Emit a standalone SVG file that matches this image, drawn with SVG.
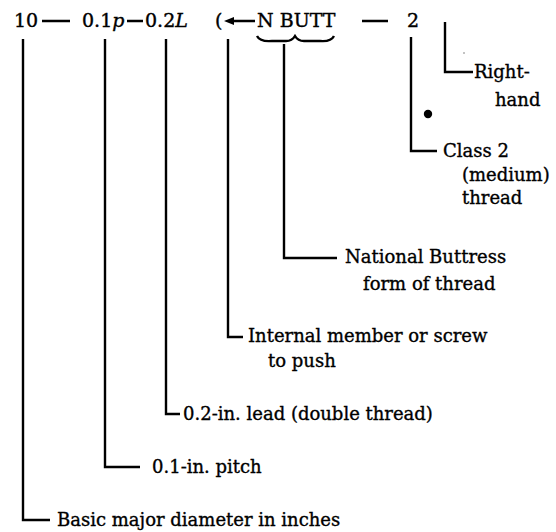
<svg xmlns="http://www.w3.org/2000/svg" width="556" height="532" viewBox="0 0 556 532">
<style>
.t{font-family:"DejaVu Serif","Liberation Serif",serif;font-size:18px;fill:#000;stroke:#000;stroke-width:0.35}
.h{font-family:"DejaVu Serif","Liberation Serif",serif;font-size:19px;fill:#000;stroke:#000;stroke-width:0.4}
.ln{fill:none;stroke:#000;stroke-width:2.4}
</style>
<rect width="556" height="532" fill="#fff"/>
<g id="header">
<text class="h" x="14" y="27">10</text>
<text class="h" x="82" y="27">0.1<tspan font-style="italic">p</tspan></text>
<text class="h" x="145" y="27">0.2<tspan font-style="italic">L</tspan></text>
<text class="h" x="215" y="27">(</text>
<text class="h" x="257" y="27">N BUTT</text>
<text class="h" x="407" y="27">2</text>
<path class="ln" d="M42,21H70M127,21H143M362,21H388M229,21H255"/>
<path d="M224,21L234,17L234,25Z" fill="#000"/>
<path class="ln" stroke-width="2.2" d="M257,36Q260,42 272,41L286,41Q292,41 295,36Q298,41 304,41L320,41Q331,42 334,36"/>
</g>
<g id="connectors">
<path class="ln" d="M23,39V520H50"/>
<path class="ln" d="M105,39V467H140"/>
<path class="ln" d="M166,39V414H180"/>
<path class="ln" d="M228,39V337H243"/>
<path class="ln" d="M284,44V258H337"/>
<path class="ln" d="M411,37V151H437"/>
<path class="ln" d="M445,22V72H473"/>
</g>
<g id="n-diameter"><text class="t" x="57" y="526">Basic major diameter in inches</text></g>
<g id="n-pitch"><text class="t" x="152" y="473">0.1-in. pitch</text></g>
<g id="n-lead"><text class="t" x="183" y="420">0.2-in. lead (double thread)</text></g>
<g id="n-internal"><text class="t" x="248" y="342">Internal member or screw</text><text class="t" x="268" y="367">to push</text></g>
<g id="n-butt"><text class="t" x="345" y="263">National Buttress</text><text class="t" x="363" y="290">form of thread</text></g>
<g id="n-class"><text class="t" x="443" y="157">Class 2</text><text class="t" x="462" y="181">(medium)</text><text class="t" x="462" y="204">thread</text></g>
<g id="n-right"><text class="t" x="474" y="78">Right-</text><text class="t" x="495" y="106">hand</text></g>
<circle cx="428" cy="114" r="4.2" fill="#000"/>
<circle cx="464" cy="53" r="0.8" fill="#777"/>
</svg>
